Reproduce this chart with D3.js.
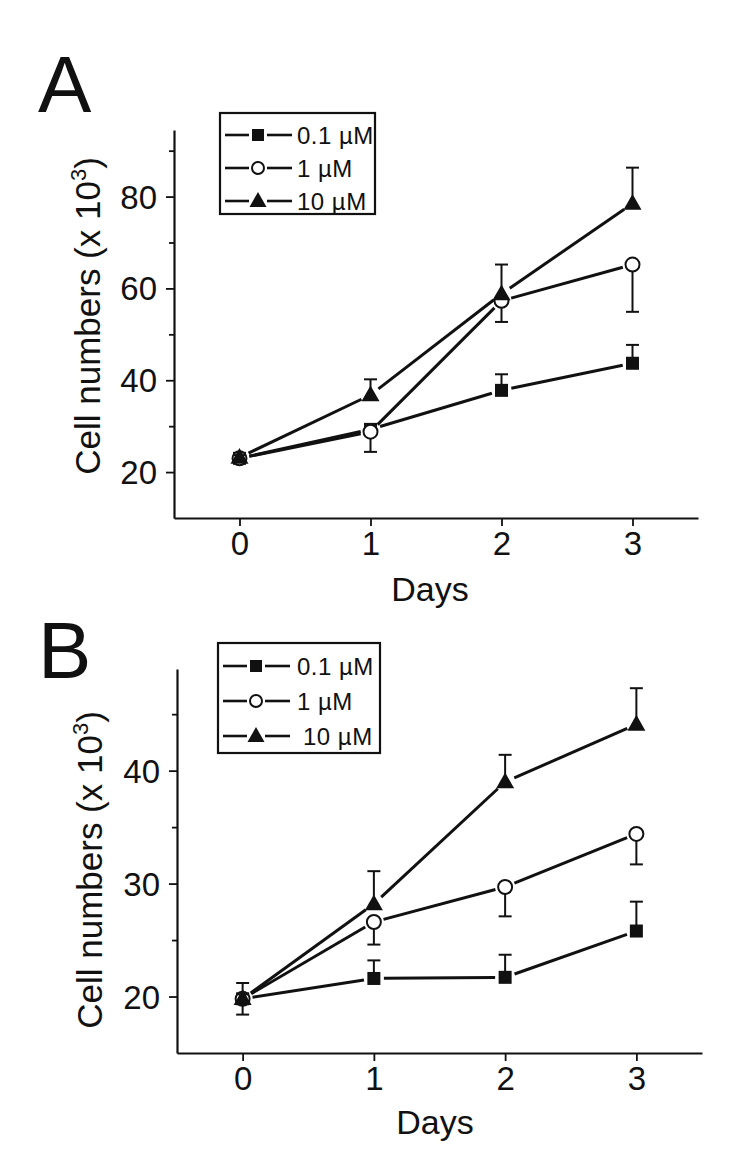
<!DOCTYPE html>
<html><head><meta charset="utf-8">
<script src="https://cdn.jsdelivr.net/npm/d3@7"></script>
<style>body{margin:0;background:#fff}svg{display:block}text{font-family:Arial,"Liberation Sans",sans-serif;fill:#111}</style>
</head><body>
<script>
// ---- data ----
const days = [0, 1, 2, 3];
const seriesNames = ["0.1 \u00b5M", "1 \u00b5M", "10 \u00b5M"];
const markerTypes = ["square", "circle", "triangle"];
const errDirections = [1, -1, 1];

// Panel A
const aLow = [23.0, 29.3, 37.8, 43.7];
const aLowErr = [0.5, 0.8, 3.5, 4.0];
const aMid = [23.0, 28.8, 57.3, 65.2];
const aMidErr = [0.5, 4.4, 4.6, 10.3];
const aHigh = [23.2, 36.8, 58.8, 78.5];
const aHighErr = [0.5, 3.4, 6.4, 7.8];
const aMajorTicks = [20, 40, 60, 80];
const aMinorTicks = [30, 50, 70, 90];

// Panel B
const bLow = [19.8, 21.6, 21.7, 25.8];
const bLowErr = [1.4, 1.6, 2.0, 2.6];
const bMid = [19.8, 26.6, 29.7, 34.4];
const bMidErr = [1.4, 2.0, 2.6, 2.7];
const bHigh = [19.8, 28.2, 39.0, 44.1];
const bHighErr = [0.4, 2.9, 2.4, 3.2];
const bMajorTicks = [20, 30, 40];
const bMinorTicks = [25, 35, 45];

const xTicks = [0, 1, 2, 3];

const svg = d3.select("body").append("svg").attr("width", 750).attr("height", 1151);

function marker(g, type, x, y, size) {
  if (type === "square") {
    g.append("rect").attr("x", x - size/2).attr("y", y - size/2).attr("width", size).attr("height", size).attr("fill", "#111");
  } else if (type === "circle") {
    g.append("circle").attr("cx", x).attr("cy", y).attr("r", size/2 + 0.5).attr("fill", "#fff").attr("stroke", "#111").attr("stroke-width", 2);
  } else {
    const s = size + 5, h = s * 0.88;
    g.append("path").attr("d", `M${x},${y - h*0.6}L${x + s/2},${y + h*0.4}L${x - s/2},${y + h*0.4}Z`).attr("fill", "#111");
  }
}

function panel(cfg) {
  const x = d3.scaleLinear().domain([-0.5, 3.5]).range([cfg.left, cfg.right]);
  const y = d3.scaleLinear().domain(cfg.yDomain).range([cfg.bottom, cfg.top]);
  const g = svg.append("g");

  // axes
  const xAxis = g.append("g").attr("transform", `translate(0,${cfg.bottom})`)
    .call(d3.axisBottom(x).tickValues(xTicks).tickSize(8).tickSizeOuter(0).tickPadding(6).tickFormat(d3.format("d")));
  const yAxis = g.append("g").attr("transform", `translate(${cfg.left},0)`)
    .call(d3.axisLeft(y).tickValues(cfg.major).tickSize(8).tickSizeOuter(0).tickPadding(cfg.ypad).tickFormat(d3.format("d")));
  g.append("g").attr("transform", `translate(${cfg.left},0)`)
    .call(d3.axisLeft(y).tickValues(cfg.minor).tickSize(5).tickSizeOuter(0).tickFormat(""))
    .select(".domain").remove();
  g.selectAll(".domain").attr("stroke", "#111").attr("stroke-width", 2.2);
  g.selectAll(".tick line").attr("stroke", "#111").attr("stroke-width", 1.8);
  xAxis.selectAll("text").attr("font-size", 33).attr("fill", "#111").attr("font-family", "Arial, 'Liberation Sans', sans-serif");
  yAxis.selectAll("text").attr("font-size", 33).attr("fill", "#111").attr("font-family", "Arial, 'Liberation Sans', sans-serif").attr("dy", "0.35em");

  // axis titles
  g.append("text").attr("x", cfg.daysX).attr("y", cfg.daysY).attr("text-anchor", "middle").attr("font-size", 34).text("Days");
  const yl = g.append("text").attr("transform", `translate(${cfg.ylabX},${cfg.ylabY}) rotate(-90)`)
    .attr("text-anchor", "middle").attr("font-size", 35);
  yl.append("tspan").text("Cell numbers (x 10");
  yl.append("tspan").attr("font-size", 22).attr("dy", -14).text("3");
  yl.append("tspan").attr("dy", 14).text(")");

  // panel letter
  g.append("text").attr("x", cfg.letterX).attr("y", cfg.letterY).attr("font-size", 80).text(cfg.letter);

  const gap = 10;
  // series
  cfg.series.forEach((s, si) => {
    const sg = g.append("g");
    const pts = days.map((d, i) => [x(d), y(s.values[i])]);
    // lines with gaps near symbols
    for (let i = 0; i < pts.length - 1; i++) {
      const [x0, y0] = pts[i], [x1, y1] = pts[i + 1];
      const L = Math.hypot(x1 - x0, y1 - y0);
      const ux = (x1 - x0) / L, uy = (y1 - y0) / L;
      sg.append("line").attr("x1", x0 + ux*gap).attr("y1", y0 + uy*gap).attr("x2", x1 - ux*gap).attr("y2", y1 - uy*gap)
        .attr("stroke", "#111").attr("stroke-width", 3);
    }
    // error bars
    days.forEach((d, i) => {
      const e = s.errs[i];
      if (e <= 0) return;
      const cx = x(d), y0 = y(s.values[i]), y1 = y(s.values[i] + s.dir * e);
      sg.append("line").attr("x1", cx).attr("x2", cx).attr("y1", y0).attr("y2", y1).attr("stroke", "#111").attr("stroke-width", 2);
      sg.append("line").attr("x1", cx - 6.5).attr("x2", cx + 6.5).attr("y1", y1).attr("y2", y1).attr("stroke", "#111").attr("stroke-width", 2);
    });
    // markers
    pts.forEach(([px, py]) => marker(sg, markerTypes[si], px, py, 13));
  });

  // legend
  const lg = g.append("g");
  lg.append("rect").attr("x", cfg.legX).attr("y", cfg.legY).attr("width", cfg.legW).attr("height", cfg.legH)
    .attr("fill", "#fff").attr("stroke", "#111").attr("stroke-width", 2.2);
  seriesNames.forEach((name, i) => {
    const ry = cfg.legY + cfg.legRow0 + i * cfg.legStep;
    const x0 = cfg.legX + 5, x1 = cfg.legX + 72, mx = cfg.legX + 38;
    lg.append("line").attr("x1", x0).attr("x2", mx - 9).attr("y1", ry).attr("y2", ry).attr("stroke", "#111").attr("stroke-width", 2.6);
    lg.append("line").attr("x1", mx + 9).attr("x2", x1).attr("y1", ry).attr("y2", ry).attr("stroke", "#111").attr("stroke-width", 2.6);
    marker(lg, markerTypes[i], mx, ry, i === 1 ? 11 : 12);
    lg.append("text").attr("x", cfg.legX + 77 + (cfg.legIndent ? cfg.legIndent[i] : 0)).attr("y", ry).attr("dy", "0.36em")
      .attr("font-size", 24).attr("letter-spacing", 0.5).text(name);
  });
}

panel({
  letter: "A", letterX: 38, letterY: 112,
  left: 174, right: 698, top: 130, bottom: 518, yDomain: [10, 94.5],
  major: aMajorTicks, minor: aMinorTicks, ypad: 9,
  daysX: 430, daysY: 601, ylabX: 100, ylabY: 316,
  legX: 220, legY: 113, legW: 155, legH: 101, legRow0: 22, legStep: 33,
  series: [
    { values: aLow, errs: aLowErr, dir: errDirections[0] },
    { values: aMid, errs: aMidErr, dir: errDirections[1] },
    { values: aHigh, errs: aHighErr, dir: errDirections[2] }
  ]
});

panel({
  letter: "B", letterX: 38, letterY: 678,
  left: 177, right: 702, top: 669, bottom: 1053, yDomain: [15, 49],
  major: bMajorTicks, minor: bMinorTicks, ypad: 9,
  daysX: 435, daysY: 1134, ylabX: 102, ylabY: 870,
  legX: 218, legY: 643, legW: 162, legH: 110, legRow0: 23, legStep: 35, legIndent: [2, 2, 8],
  series: [
    { values: bLow, errs: bLowErr, dir: errDirections[0] },
    { values: bMid, errs: bMidErr, dir: errDirections[1] },
    { values: bHigh, errs: bHighErr, dir: errDirections[2] }
  ]
});
</script>
</body></html>
